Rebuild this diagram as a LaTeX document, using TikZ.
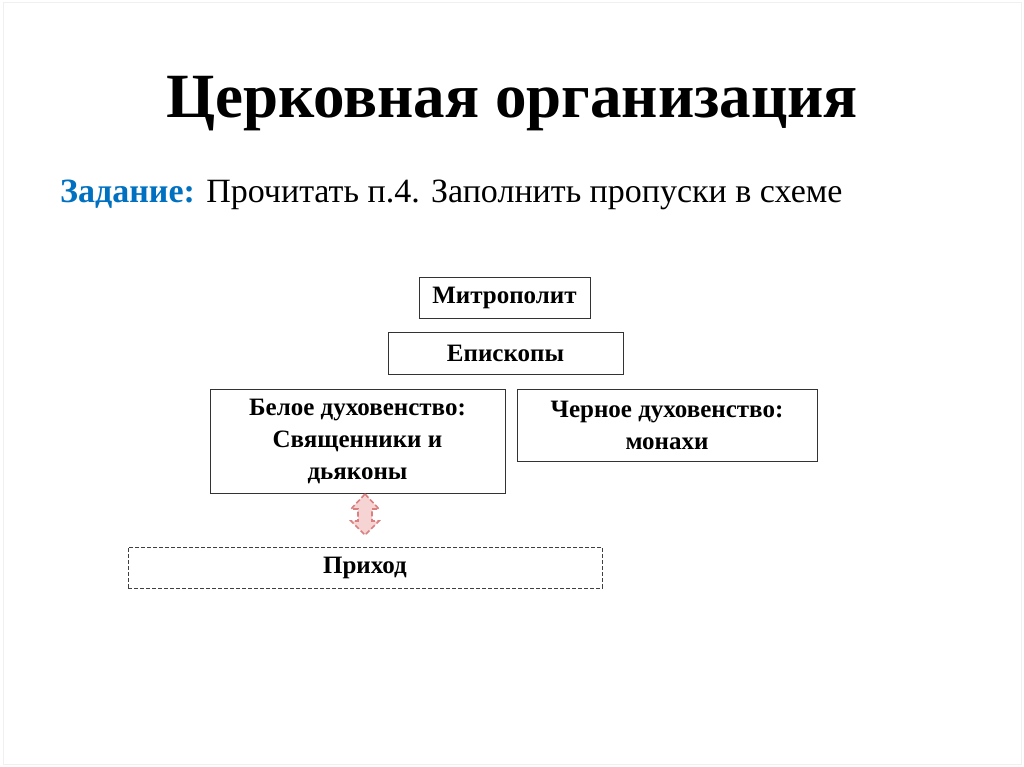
\documentclass[tikz,border=0pt]{standalone}
\usepackage{fontspec}
\setmainfont{Liberation Serif}
\definecolor{zblue}{RGB}{0,112,192}
\definecolor{arrline}{RGB}{218,128,128}
\definecolor{arrfill}{RGB}{246,212,212}
\begin{document}
\begin{tikzpicture}[x=1pt,y=-1pt,
  box/.style={draw=black!80,line width=0.9pt,inner sep=0pt,font=\fontsize{25}{32}\selectfont\bfseries,align=center},
  dbox/.style={box,dashed,dash pattern=on 4pt off 2pt,draw=black!75}]
\useasboundingbox (0,0) rectangle (1024,767);
\draw[black!6,line width=1pt] (3,3) rectangle (1021,764);
\node[font=\fontsize{63}{70}\selectfont\bfseries] (title) at (512,104) {Церковная организация};
\node[anchor=base west,inner sep=0pt,font=\fontsize{34}{40}\selectfont] (task) at (60,203)
  {\textcolor{zblue}{\bfseries Задание:} Прочитать п.4. Заполнить пропуски в схеме};
\node[box,minimum width=171,minimum height=41] (metr) at (504.5,297.5) {Митрополит};
\node[box,minimum width=235,minimum height=42] (episk) at (505.5,353) {Епископы};
\node[box,minimum width=295,minimum height=104] (white) at (357.5,441) {Белое духовенство:\\Священники и\\дьяконы};
\node[box,minimum width=300,minimum height=72] (black) at (667,425) {Черное духовенство:\\монахи};
\node[dbox,minimum width=474,minimum height=41] (parish) at (365,567.5) {Приход};
\draw[arrline,fill=arrfill,line width=1.6pt,dash pattern=on 5pt off 2.5pt,line join=miter]
  (365,494) -- (379,509) -- (372,509) -- (372,521) -- (379,521) -- (365,535)
  -- (351,521) -- (358,521) -- (358,509) -- (351,509) -- cycle;
\end{tikzpicture}
\end{document}
